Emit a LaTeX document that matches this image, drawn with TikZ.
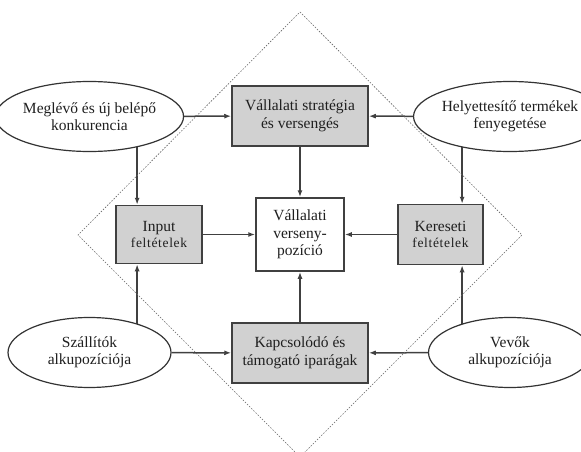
\documentclass[tikz,border=0pt]{standalone}
\usepackage{fontspec}
\setmainfont{Liberation Serif}
\usetikzlibrary{shapes.geometric,arrows.meta,backgrounds}
\newcommand{\kicsibetu}{\fontsize{13.5}{15}\selectfont\addfontfeature{LetterSpace=5}}

\begin{document}
\begin{tikzpicture}[x=1pt,y=-1pt,
    every node/.style={font=\fontsize{15.5}{17.5}\selectfont, text=black!88, align=center},
    box/.style={draw=black!75, line width=1.5pt, fill=black!18, minimum width=136pt, minimum height=60pt, inner sep=2pt},
    ell/.style={ellipse, draw=black!80, line width=1.2pt, fill=white, minimum width=163pt, minimum height=70pt, inner sep=0pt},
    arr/.style={draw=black!75, line width=1.5pt, -{Latex[length=7pt,width=5pt]}}]
  \useasboundingbox (0,0) rectangle (581,452);

  \draw [black!60, line width=0.6pt, dash pattern=on 1.5pt off 1.5pt] (300,12) -- (522,235) -- (300,457) -- (78,235) -- cycle;

  \node [box] (strat) at (300,116) {Vállalati stratégia\\és versengés};
  \node [box, minimum width=86pt, minimum height=58pt] (inp) at (159,234.5) {Input\\[-1pt]{\kicsibetu feltételek}};
  \node [box, fill=white, minimum width=88pt, minimum height=73pt] (poz) at (300,234.5) {Vállalati\\verseny-\\pozíció};
  \node [box, minimum width=85pt, minimum height=60pt] (ker) at (440.5,234.5) {Kereseti\\[-1pt]{\kicsibetu feltételek}};
  \node [box] (kap) at (300,353) {Kapcsolódó és\\támogató iparágak};

  \node [ell] (konk) at (89.5,116.5) {Meglévő és új belépő\\konkurencia};
  \node [ell] (hely) at (510,116.5) {Helyettesítő termékek\\fenyegetése};
  \node [ell] (szall) at (89.5,352.5) {Szállítók\\alkupozíciója};
  \node [ell] (vevo) at (510,352.5) {Vevők\\alkupozíciója};

  \path (inp.north west) -- coordinate[pos=.25] (inpF) (inp.north east);
  \path (inp.south west) -- coordinate[pos=.25] (inpA) (inp.south east);
  \path (ker.north west) -- coordinate[pos=.75] (kerF) (ker.north east);
  \path (ker.south west) -- coordinate[pos=.75] (kerA) (ker.south east);

  \begin{scope}[on background layer]
    \draw [arr] (konk) -- (strat);
    \draw [arr] (hely) -- (strat);
    \draw [arr] (szall) -- (kap);
    \draw [arr] (vevo) -- (kap);
    \draw [arr] (konk.center -| inpF) -- (inpF);
    \draw [arr] (szall.center -| inpA) -- (inpA);
    \draw [arr] (hely.center -| kerF) -- (kerF);
    \draw [arr] (vevo.center -| kerA) -- (kerA);
  \end{scope}

  \draw [arr] (strat) -- (poz);
  \draw [arr] (kap) -- (poz);
  \draw [arr] (inp) -- (poz);
  \draw [arr] (ker) -- (poz);
\end{tikzpicture}
\end{document}
